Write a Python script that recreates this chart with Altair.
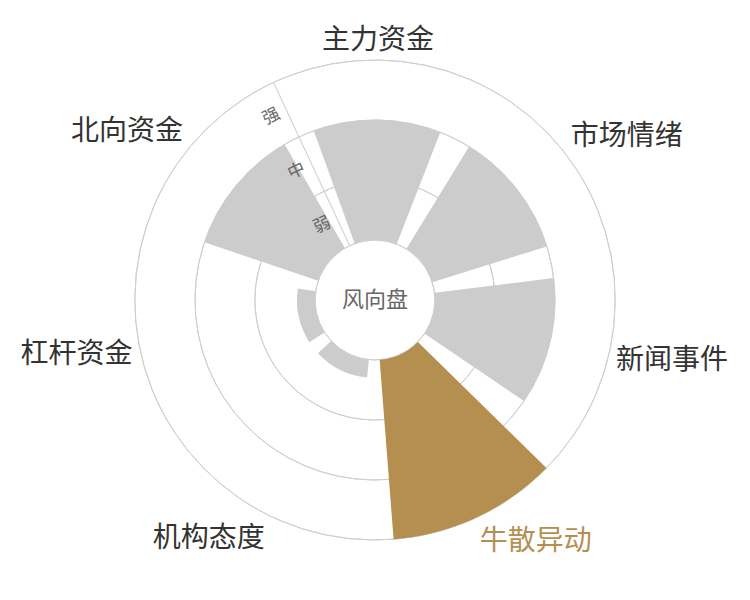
import math
import altair as alt
import pandas as pd

# ---- data -------------------------------------------------------------
categories = ["主力资金", "市场情绪", "新闻事件", "牛散异动", "机构态度", "杠杆资金", "北向资金"]
strength = [2, 2, 2, 3, 0.3, 0.3, 2]          # 0 = centre ring, 1 = 弱, 2 = 中, 3 = 强
levels = ["弱", "中", "强"]
highlight = "牛散异动"
center_label = "风向盘"

# ---- style ------------------------------------------------------------
GOLD = "#b58f50"
GRAY = "#cccccc"
GRID = "#cfcfcf"
TEXT = "#333333"
SUB = "#666666"
FONT = "Noto Sans CJK SC"

n = len(categories)
bars = pd.DataFrame({"cat": categories, "val": strength, "idx": list(range(n))})
ticks = pd.DataFrame({"lvl": levels, "k": list(range(len(levels)))})
grid = pd.DataFrame({"g": list(range(len(levels) + 1))})
center = pd.DataFrame({"t": [center_label]})

off = math.radians(0.7)
theta_scale = alt.Scale(type="linear", domain=[0, n], range=[off, 2 * math.pi + off],
                        zero=False, nice=False)
r_scale = alt.Scale(type="linear", domain=[0, len(levels)], range=[60, 240],
                    zero=False, nice=False)

grid_layer = alt.Chart(grid).transform_calculate(
    s="0", e=str(n)
).mark_arc(filled=False, stroke=GRID, strokeWidth=1).encode(
    theta=alt.Theta("s:Q", scale=theta_scale, stack=None),
    theta2="e:Q",
    radius=alt.Radius("g:Q", scale=r_scale),
    radius2="g:Q",
)

bar_color = alt.when(alt.datum.cat == highlight).then(alt.value(GOLD)).otherwise(alt.value(GRAY))
bar_layer = alt.Chart(bars).transform_calculate(
    a0="datum.idx - 0.4", a1="datum.idx + 0.4", base="0"
).mark_arc().encode(
    theta=alt.Theta("a0:Q", scale=theta_scale, stack=None),
    theta2="a1:Q",
    radius=alt.Radius("val:Q", scale=r_scale),
    radius2="base:Q",
    color=bar_color,
)

axis_layer = alt.Chart(center).transform_calculate(
    t0="-0.5", t1="-0.4995", lo="0", hi=str(len(levels))
).mark_arc(filled=False, stroke=GRID, strokeWidth=0.8).encode(
    theta=alt.Theta("t0:Q", scale=theta_scale, stack=None),
    theta2="t1:Q",
    radius=alt.Radius("hi:Q", scale=r_scale),
    radius2="lo:Q",
)

tick_layer = alt.Chart(ticks).transform_calculate(
    t="-0.5", r="datum.k + 0.5"
).mark_text(font=FONT, fontSize=17, color=SUB, angle=335, align="right", dx=-8,
            baseline="middle").encode(
    theta=alt.Theta("t:Q", scale=theta_scale, stack=None),
    radius=alt.Radius("r:Q", scale=r_scale),
    text="lvl:N",
)

label_color = alt.when(alt.datum.cat == highlight).then(alt.value(GOLD)).otherwise(alt.value(TEXT))
label_layer = alt.Chart(bars).transform_calculate(
    a="datum.idx * 2 * PI / %d" % n
).mark_text(
    font=FONT, fontSize=28, dy=3,
    align={"expr": "abs(sin(datum.a)) < 0.05 ? 'center' : (sin(datum.a) > 0 ? 'left' : 'right')"},
    baseline={"expr": "cos(datum.a) > 0.3 ? 'bottom' : (cos(datum.a) < -0.3 ? 'top' : 'middle')"},
).encode(
    theta=alt.Theta("idx:Q", scale=theta_scale, stack=None),
    radius=alt.value(248),
    text="cat:N",
    color=label_color,
)

center_layer = alt.Chart(center).mark_text(font=FONT, fontSize=22, color=SUB).encode(
    text="t:N",
)

chart = alt.layer(
    grid_layer, bar_layer, axis_layer, tick_layer, label_layer, center_layer
).properties(width=724, height=574).configure_view(strokeWidth=0)

chart.save("out.html", embed_options={"renderer": "svg", "actions": False})
